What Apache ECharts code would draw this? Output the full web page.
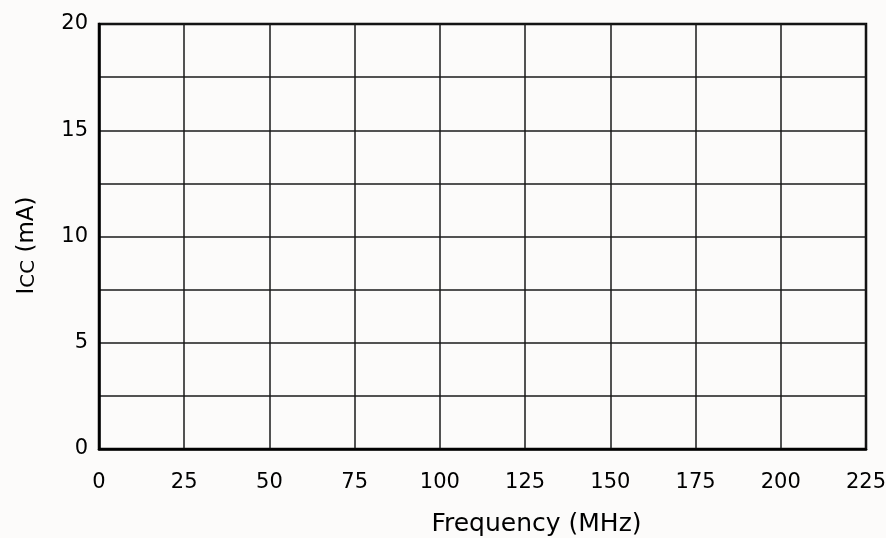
<!DOCTYPE html>
<html>
<head>
<meta charset="utf-8">
<script src="https://cdn.jsdelivr.net/npm/echarts@6/dist/echarts.min.js"></script>
<style>
html,body{margin:0;padding:0;background:#fcfbfa;}
#c{width:886px;height:538px;}
</style>
</head>
<body>
<div id="c"></div>
<script>
const xTicks = [0, 25, 50, 75, 100, 125, 150, 175, 200, 225];
const yTicks = [0, 5, 10, 15, 20];
const yGridStep = 2.5;
const seriesValues = [];

const FONT = 'DejaVu Sans';
const chart = echarts.init(document.getElementById('c'));
chart.setOption({
  backgroundColor: '#fcfbfa',
  animation: false,
  grid: {left: 99, right: 20, top: 24, bottom: 89, outerBoundsMode: 'none', containLabel: false,
    show: true, borderColor: '#000', borderWidth: 2.5, backgroundColor: 'transparent'},
  xAxis: {
    type: 'value', min: xTicks[0], max: xTicks[xTicks.length - 1], interval: xTicks[1] - xTicks[0],
    name: 'Frequency (MHz)', nameLocation: 'middle', nameGap: 63,
    nameTextStyle: {fontFamily: FONT, fontSize: 25, color: '#000', padding: [0, 0, 0, 108]},
    axisLine: {show: true, lineStyle: {color: '#000', width: 2.5}},
    axisTick: {show: false},
    axisLabel: {margin: 23, fontFamily: FONT, fontSize: 21, color: '#000'},
    splitLine: {show: true, lineStyle: {color: '#1a1a1a', width: 1.5}}
  },
  yAxis: {
    type: 'value', min: yTicks[0], max: yTicks[yTicks.length - 1], interval: yGridStep,
    name: '{a|I}{b|CC}{a| (mA)}', nameLocation: 'middle', nameGap: 60, nameRotate: 90,
    nameTextStyle: {fontFamily: FONT, color: '#000', padding: [0, 18, 0, 0],
      rich: {a: {fontFamily: FONT, fontSize: 23, color: '#000'}, b: {fontFamily: FONT, fontSize: 20, color: '#000', verticalAlign: 'bottom'}}},
    axisLine: {show: true, lineStyle: {color: '#000', width: 2.5}},
    axisTick: {show: false},
    axisLabel: {margin: 11, fontFamily: FONT, fontSize: 21, color: '#000',
      formatter: v => (yTicks.indexOf(v) >= 0 ? String(v) : '')},
    splitLine: {show: true, lineStyle: {color: '#1a1a1a', width: 1.5}}
  },
  series: [{type: 'line', data: seriesValues}]
});
</script>
</body>
</html>
